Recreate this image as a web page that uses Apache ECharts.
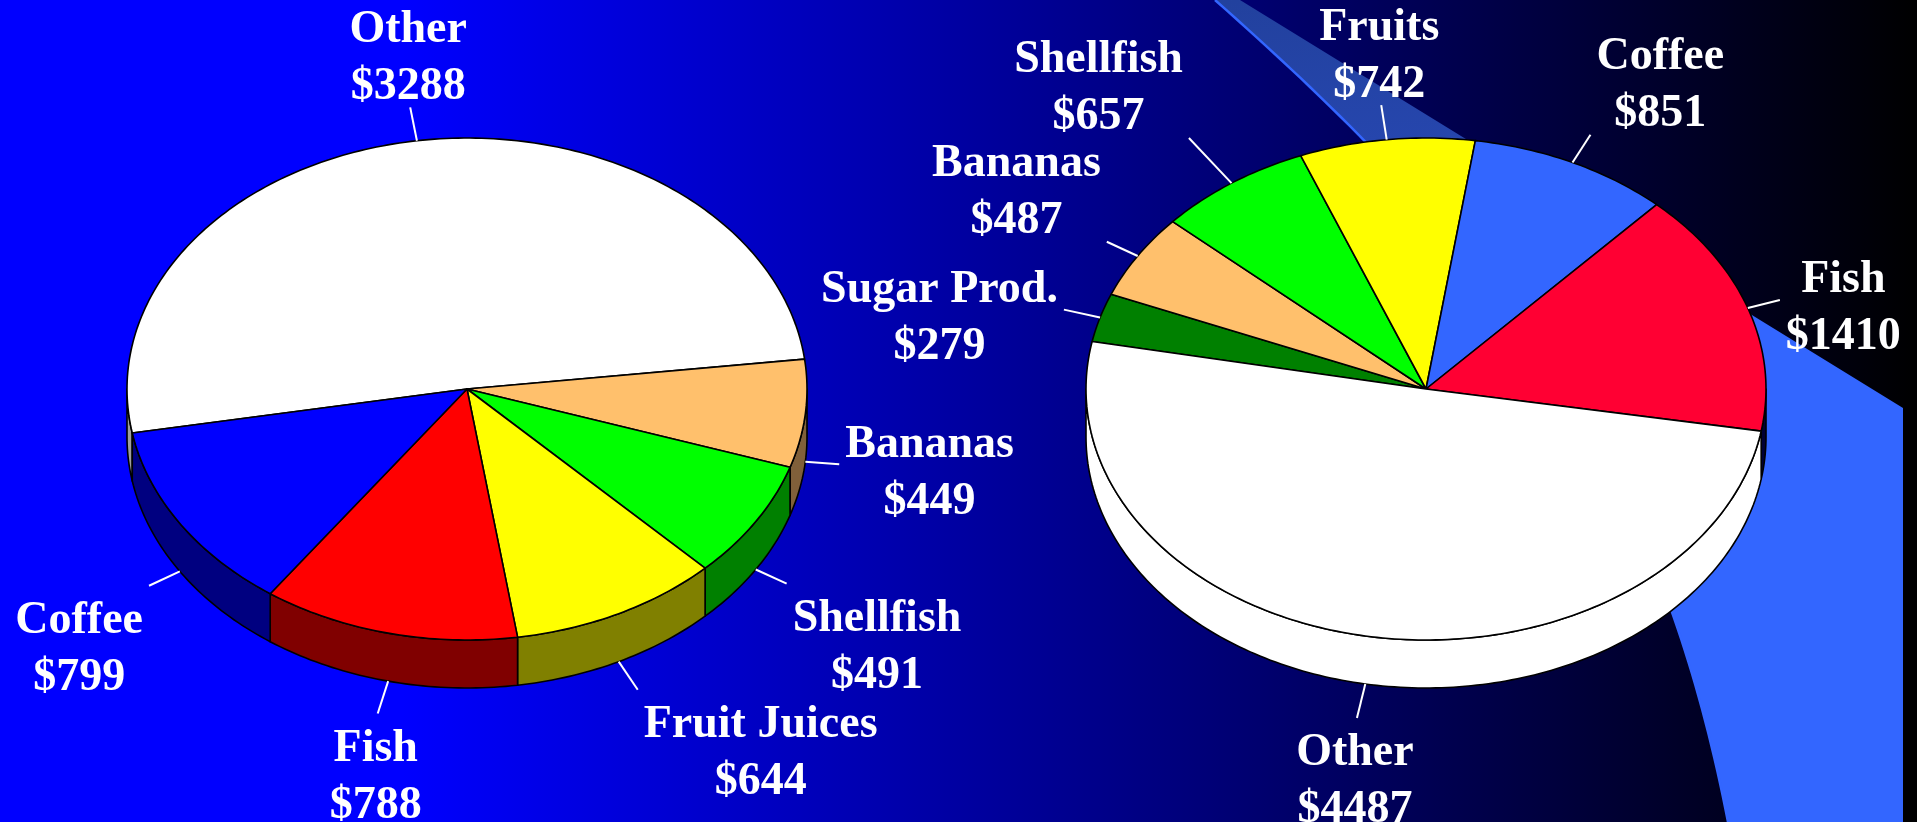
<!DOCTYPE html>
<html>
<head>
<meta charset="utf-8">
<script src="https://cdn.jsdelivr.net/npm/echarts/dist/echarts.min.js"></script>
<style>
  html, body { margin: 0; padding: 0; background: #000; }
  #chart { width: 1917px; height: 822px; }
</style>
</head>
<body>
<div id="chart"></div>
<script>
// left pie, slices listed clockwise
const leftNames = ['Other', 'Bananas', 'Shellfish', 'Fruit Juices', 'Fish', 'Coffee']
const leftValues = [3288, 449, 491, 644, 788, 799]

// right pie, slices listed clockwise
const rightNames = ['Sugar Prod.', 'Bananas', 'Shellfish', 'Fruits', 'Coffee', 'Fish', 'Other']
const rightValues = [279, 487, 657, 742, 851, 1410, 4487]

// colours (top face / side wall)
const leftTop = ['#FFFFFF', '#FFC06C', '#00FF00', '#FFFF00', '#FF0000', '#0000FF']
const leftSide = ['#A0A0A0', '#80603A', '#008000', '#808000', '#800000', '#000080']
const rightTop = ['#008000', '#FFC06C', '#00FF00', '#FFFF00', '#3366FF', '#FF0033', '#FFFFFF']
const rightSide = ['#004000', '#806036', '#008000', '#808000', '#1A3380', '#000033', '#FFFFFF']

const FONT = 'bold 46px "Liberation Serif", "Times New Roman", serif'
const measureCtx = document.createElement('canvas').getContext('2d')
measureCtx.font = FONT

//画一个带侧面的椭圆饼图
function pieRenderer(cfg) {
  const total = cfg.values.reduce((a, b) => a + b, 0)
  const pt = (deg, dy) => {
    const r = (deg * Math.PI) / 180
    return [cfg.cx + cfg.rx * Math.cos(r), cfg.cy - cfg.ry * Math.sin(r) + (dy || 0)]
  }
  const arc = (from, to, dy) => {
    const pts = []
    const n = Math.max(2, Math.ceil(Math.abs(to - from)))
    for (let k = 0; k <= n; k++) pts.push(pt(from + ((to - from) * k) / n, dy))
    return pts
  }

  return function (params, api) {
    const i = params.dataIndex
    let before = 0
    for (let k = 0; k < i; k++) before += cfg.values[k]
    const a0 = cfg.start - (before / total) * 360
    const a1 = a0 - (api.value(0) / total) * 360
    const children = []

    // side wall, only on the front half (180..360)
    for (const off of [-360, 0, 360]) {
      const s = Math.max(a1 + off, 180)
      const e = Math.min(a0 + off, 360)
      if (e > s) {
        const pts = arc(s, e, 0).concat(arc(e, s, cfg.depth))
        children.push({
          type: 'polygon',
          shape: { points: pts },
          style: { fill: cfg.side[i], stroke: '#000', lineWidth: 1.6, lineJoin: 'round' },
        })
      }
    }

    // top face
    children.push({
      type: 'polygon',
      shape: { points: [[cfg.cx, cfg.cy]].concat(arc(a0, a1, 0)) },
      style: { fill: cfg.top[i], stroke: '#000', lineWidth: 1.6, lineJoin: 'round' },
    })

    // leader line + label
    const m = (a0 + a1) / 2
    const c = Math.cos((m * Math.PI) / 180)
    const s = Math.sin((m * Math.PI) / 180)
    const anchor = pt(m, s < 0 ? cfg.depth : 0)
    let dx = c * cfg.rx
    let dy = -s * cfg.ry
    const len = Math.hypot(dx, dy)
    dx /= len
    dy /= len
    const L = cfg.lead[i]
    const end = [anchor[0] + dx * L, anchor[1] + dy * L]
    children.push({
      type: 'line',
      shape: { x1: anchor[0], y1: anchor[1], x2: end[0], y2: end[1] },
      style: { stroke: '#fff', lineWidth: 2 },
    })

    const lines = [cfg.names[i], '$' + api.value(0)]
    const w = Math.max(...lines.map((t) => measureCtx.measureText(t).width))
    let tx = end[0] - 2
    if (c > 0.25) tx = end[0] + 6 + w / 2
    else if (c < -0.25) tx = end[0] - 6 - w / 2
    let ty = end[1] + 9
    if (s > 0.35) ty = end[1] - 49
    else if (s < -0.35) ty = end[1] + 64
    children.push({
      type: 'text',
      style: {
        text: lines.join('\n'),
        x: tx,
        y: ty,
        fill: '#fff',
        font: FONT,
        align: 'center',
        verticalAlign: 'middle',
        lineHeight: 57,
      },
    })

    return { type: 'group', children: children }
  }
}

// swoosh in the background (decoration)
function bezierPts(p0, p1, p2, p3, n) {
  const out = []
  for (let k = 0; k <= n; k++) {
    const t = k / n
    const u = 1 - t
    out.push([
      u * u * u * p0[0] + 3 * u * u * t * p1[0] + 3 * u * t * t * p2[0] + t * t * t * p3[0],
      u * u * u * p0[1] + 3 * u * u * t * p1[1] + 3 * u * t * t * p2[1] + t * t * t * p3[1],
    ])
  }
  return out
}
const swooshEdge = bezierPts([1215, 0], [1515, 265], [1660, 472], [1728, 822], 80)
const swooshBand = swooshEdge.concat([[1903, 822], [1903, 408], [1240, 0]])

let chart = echarts.init(document.getElementById('chart'), null, { renderer: 'canvas' })

let option = {
  animation: false,
  graphic: [
    {
      type: 'rect',
      z: 0,
      shape: { x: 0, y: 0, width: 1917, height: 822 },
      style: {
        fill: new echarts.graphic.LinearGradient(0, 0, 1, 0, [
          { offset: 0, color: '#0000FF' },
          { offset: 0.21, color: '#0000FF' },
          { offset: 1, color: '#000000' },
        ]),
      },
    },
    {
      type: 'polygon',
      z: 1,
      shape: { points: swooshBand },
      style: {
        fill: new echarts.graphic.LinearGradient(0, 0, 0, 1, [
          { offset: 0, color: '#22419E' },
          { offset: 0.18, color: '#2646AE' },
          { offset: 0.34, color: '#3366FF' },
          { offset: 1, color: '#3366FF' },
        ]),
      },
    },
    {
      type: 'polyline',
      z: 2,
      shape: { points: swooshEdge },
      style: { stroke: '#3366FF', lineWidth: 2.5, fill: null },
    },
  ],
  series: [
    {
      type: 'custom',
      coordinateSystem: 'none',
      z: 10,
      silent: true,
      data: leftValues,
      renderItem: pieRenderer({
        names: leftNames,
        values: leftValues,
        top: leftTop,
        side: leftSide,
        lead: [34, 34, 34, 34, 34, 34],
        cx: 467, cy: 389, rx: 340, ry: 251, depth: 48, start: 190.1,
      }),
    },
    {
      type: 'custom',
      coordinateSystem: 'none',
      z: 10,
      silent: true,
      data: rightValues,
      renderItem: pieRenderer({
        names: rightNames,
        values: rightValues,
        top: rightTop,
        side: rightSide,
        lead: [37, 34, 62, 35, 33, 33, 35],
        cx: 1426, cy: 389, rx: 340, ry: 251, depth: 48, start: 169.1,
      }),
    },
  ],
}
chart.setOption(option)
</script>
</body>
</html>
